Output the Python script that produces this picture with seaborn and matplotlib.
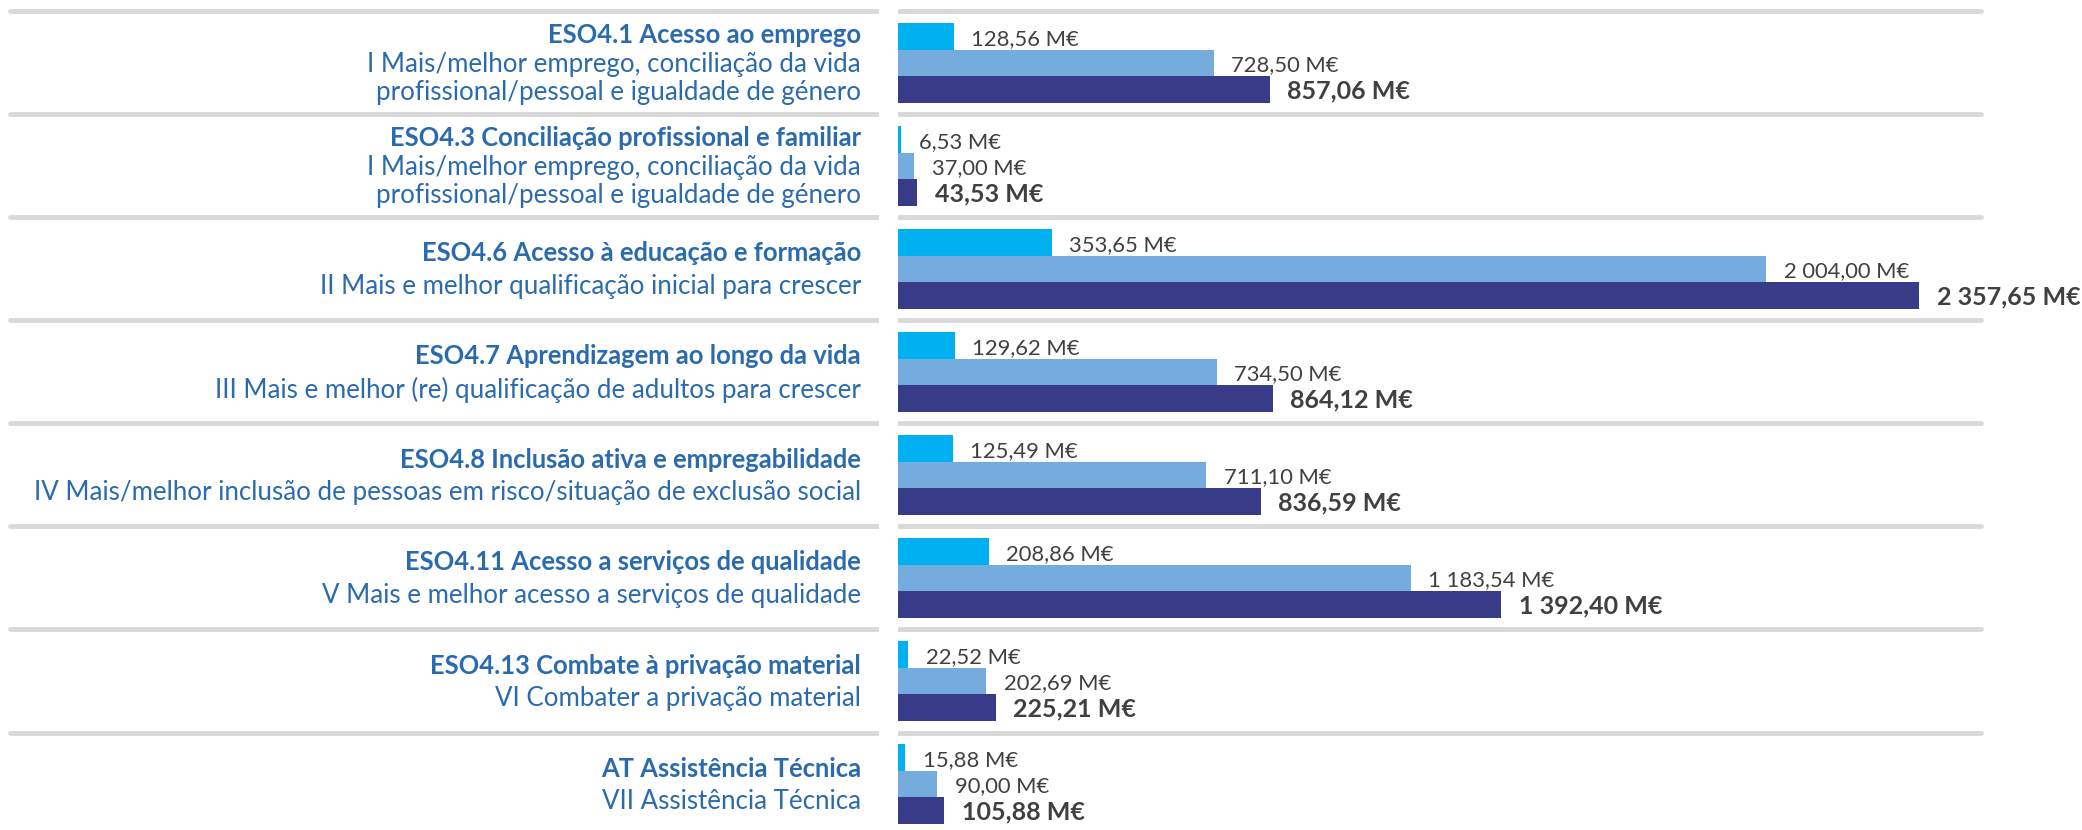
import pandas as pd
import seaborn as sns
import matplotlib.pyplot as plt

# --- Datos ---
titulos = [
    "ESO4.1 Acesso ao emprego",
    "ESO4.3 Conciliação profissional e familiar",
    "ESO4.6 Acesso à educação e formação",
    "ESO4.7 Aprendizagem ao longo da vida",
    "ESO4.8 Inclusão ativa e empregabilidade",
    "ESO4.11 Acesso a serviços de qualidade",
    "ESO4.13 Combate à privação material",
    "AT Assistência Técnica",
]
subtitulos = [
    "I Mais/melhor emprego, conciliação da vida\nprofissional/pessoal e igualdade de género",
    "I Mais/melhor emprego, conciliação da vida\nprofissional/pessoal e igualdade de género",
    "II Mais e melhor qualificação inicial para crescer",
    "III Mais e melhor (re) qualificação de adultos para crescer",
    "IV Mais/melhor inclusão de pessoas em risco/situação de exclusão social",
    "V Mais e melhor acesso a serviços de qualidade",
    "VI Combater a privação material",
    "VII Assistência Técnica",
]
nacional = [128.56, 6.53, 353.65, 129.62, 125.49, 208.86, 22.52, 15.88]
fse = [728.50, 37.00, 2004.00, 734.50, 711.10, 1183.54, 202.69, 90.00]
total = [857.06, 43.53, 2357.65, 864.12, 836.59, 1392.40, 225.21, 105.88]
series = ["Contrapartida nacional", "FSE+", "Total"]

# --- Estilo ---
COLORES = ["#00B0F0", "#74ACDE", "#383B87"]
AZUL_TXT = "#2A6AAE"
GRIS_TXT = "#404040"
GRIS_LINEA = "#D9D9D9"
FUENTE = ["Lato", "DejaVu Sans"]

sns.set_theme(style="white")
plt.rcParams["font.family"] = FUENTE

W, H = 2082, 830
X0 = 898.4          # inicio de las barras (px)
PX_POR_UNIDAD = 0.4331
SEP0, SLOT = 11.5, 103.0

def fmt(v):
    return f"{v:,.2f}".replace(",", " ").replace(".", ",") + " M€"

df = pd.DataFrame({
    "eso": titulos * 3,
    "serie": [s for s in series for _ in titulos],
    "valor": nacional + fse + total,
})

fig = plt.figure(figsize=(W / 100, H / 100), dpi=100)
y_top = -0.5 - SEP0 / SLOT
y_bot = (H - SEP0) / SLOT - 0.5

# --- Barras ---
ax = fig.add_axes([X0 / W, 0, (W - X0) / W, 1])
sns.barplot(data=df, x="valor", y="eso", hue="serie", order=titulos,
            hue_order=series, palette=COLORES, orient="h", width=0.767,
            saturation=1, legend=False, ax=ax, linewidth=0)
ax.set_xlim(0, (W - X0) / PX_POR_UNIDAD)
ax.set_ylim(y_bot, y_top)
ax.axis("off")

n_hue = len(series)
h = 0.767 / n_hue
for j, (vals, peso, tam) in enumerate([(nacional, "normal", 15.8),
                                        (fse, "normal", 15.8),
                                        (total, "bold", 18)]):
    for i, v in enumerate(vals):
        y = i - 0.767 / 2 + h * (j + 0.5)
        ax.annotate(fmt(v), (v, y), xytext=(12.5, -1.5), textcoords="offset points",
                    ha="left", va="center", color=GRIS_TXT, fontsize=tam,
                    fontweight=peso, annotation_clip=False)

for i in range(len(titulos)):
    ax.axhline(i - 0.5, xmin=0, xmax=(1981 - X0) / (W - X0), color=GRIS_LINEA, lw=3.5)

# --- Etiquetas a la izquierda ---
axl = fig.add_axes([0, 0, 879 / W, 1])
axl.set_xlim(0, 879)
axl.set_ylim(y_bot, y_top)
axl.axis("off")
for i, (t, s) in enumerate(zip(titulos, subtitulos)):
    lineas = s.split("\n")
    if len(lineas) == 2:
        offs = [-28.0, 1.5, 29.5]
    else:
        offs = [-15.5, 17.5]
    axl.text(861, i + offs[0] / SLOT, t, ha="right", va="center", color=AZUL_TXT,
             fontsize=18.4, fontweight="bold")
    for k, l in enumerate(lineas):
        axl.text(861, i + offs[k + 1] / SLOT, l, ha="right", va="center",
                 color=AZUL_TXT, fontsize=18.6)
    axl.axhline(i - 0.5, xmin=10 / 879, xmax=1, color=GRIS_LINEA, lw=3.5)

fig.savefig("out.png", dpi=100)
